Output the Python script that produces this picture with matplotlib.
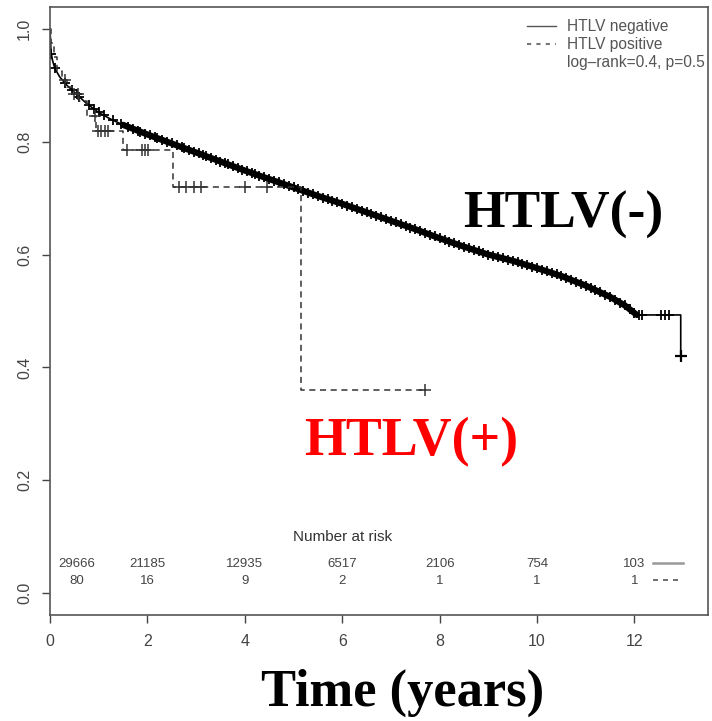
import numpy as np
import matplotlib.pyplot as plt
from matplotlib.lines import Line2D

# Kaplan-Meier curves (HTLV negative is near-continuous)
neg_t = [0, 0.02, 0.05, 0.1, 0.2, 0.35, 0.5, 0.75, 1.0, 1.25, 1.5, 2.0, 2.5, 3.0, 3.5,
         4.0, 4.5, 5.0, 5.5, 6.0, 6.5, 7.0, 7.5, 8.0, 8.5, 9.0, 9.5, 10.0, 10.5, 11.0,
         11.5, 11.8, 12.05, 12.95, 12.95]
neg_s = [1.0, 0.96, 0.945, 0.93, 0.915, 0.9, 0.888, 0.868, 0.852, 0.84, 0.83, 0.813,
         0.797, 0.781, 0.765, 0.749, 0.734, 0.719, 0.704, 0.69, 0.675, 0.66, 0.645,
         0.629, 0.614, 0.60, 0.589, 0.576, 0.562, 0.545, 0.525, 0.51, 0.493, 0.493, 0.42]
neg_cens = [0.03, 0.1, 0.3, 0.45, 0.55, 0.6, 0.8, 0.9, 1.0, 1.1, 1.3, 1.45,
            1.6, 1.7, 1.8, 1.85, 1.95, 2.05, 2.15, 2.2, 2.3, 2.4, 2.5, 2.6, 2.7, 2.75,
            2.85, 2.95, 3.05, 3.15, 3.2, 3.3, 3.4, 3.5, 3.6, 3.65, 3.75, 3.85, 3.95, 4.05,
            4.15, 4.2, 4.3, 4.4, 4.5, 4.6, 4.7, 4.8, 4.9, 5.0, 5.1, 5.2, 5.3, 5.4, 5.5,
            5.6, 5.7, 5.8, 5.9, 6.0, 6.1, 6.2, 6.3, 6.4, 6.5, 6.6, 6.7, 6.8, 6.9, 7.0,
            7.1, 7.2, 7.3, 7.4, 7.5, 7.6, 7.7, 7.8, 7.9, 8.0, 8.1, 8.2, 8.3, 8.4, 8.5,
            8.6, 8.7, 8.8, 8.9, 9.0, 9.1, 9.2, 9.3, 9.4, 9.5, 9.6, 9.7, 9.8, 9.9, 10.0,
            10.1, 10.2, 10.3, 10.4, 10.5, 10.6, 10.7, 10.8, 10.9, 11.0, 11.1, 11.2, 11.3,
            11.4, 11.5, 11.6, 11.7, 11.8, 11.9, 12.0, 12.1, 12.15, 12.55, 12.62, 12.7]
neg_last_cens = 12.95

pos_t = [0, 0.03, 0.08, 0.15, 0.25, 0.35, 0.45, 0.6, 0.75, 0.95, 1.5, 2.52, 5.15, 7.7]
pos_s = [1.0, 0.975, 0.95, 0.925, 0.91, 0.897, 0.885, 0.872, 0.845, 0.82, 0.785, 0.72,
         0.36, 0.36]
pos_cens = [0.3, 0.5, 0.58, 0.92, 0.98, 1.05, 1.12, 1.2, 1.58, 1.88, 1.95, 2.02,
            2.65, 2.8, 2.95, 3.1, 4.0, 4.45, 7.7]

risk_x = [0.55, 2, 4, 6, 8, 10, 12]
risk_neg = ['29666', '21185', '12935', '6517', '2106', '754', '103']
risk_pos = ['80', '16', '9', '2', '1', '1', '1']


def step_at(times, surv, t):
    idx = np.searchsorted(times, t, side='right') - 1
    return np.asarray(surv)[idx]


fig = plt.figure(figsize=(7.12, 7.21), dpi=100)
ax = fig.add_axes([50/712, 106/721, 658/712, 608/721])

nt = np.array(neg_t)
ns = np.array(neg_s)
ax.plot(nt, ns, color='black', lw=1.2)
dense = (nt >= 1.5) & (nt <= 12.05)
ax.plot(nt[dense], ns[dense], color='black', lw=4.5, solid_capstyle='round')
ax.plot(neg_cens, np.interp(neg_cens, nt[:-1], ns[:-1]), ls='none', marker='+',
        color='black', ms=7, mew=1.3)
ax.plot([neg_last_cens], [ns[-1]], ls='none', marker='+', color='black', ms=8, mew=1.6)

ax.step(pos_t, pos_s, where='post', color='#333333', lw=1.1, ls=(0, (4, 3)))
ax.plot(pos_cens, step_at(pos_t, pos_s, pos_cens), ls='none', marker='+',
        color='#333333', ms=8, mew=1.1)

ax.set_xlim(0, 13.51)
ax.set_ylim(-0.039, 1.039)
ax.set_xticks([0, 2, 4, 6, 8, 10, 12])
ax.set_yticks([0, 0.2, 0.4, 0.6, 0.8, 1.0])
ax.set_yticklabels(['0.0', '0.2', '0.4', '0.6', '0.8', '1.0'], rotation=90, va='center')
ax.tick_params(direction='out', length=6, width=1, colors='#444444',
               labelsize=11.5)
ax.tick_params(axis='x', pad=8)
ax.tick_params(axis='y', pad=7)
for lab in ax.get_xticklabels() + ax.get_yticklabels():
    lab.set_fontfamily('Liberation Sans')
for sp in ax.spines.values():
    sp.set_color('#555555')
    sp.set_linewidth(1.2)

handles = [Line2D([], [], color='#555555', lw=1),
           Line2D([], [], color='#777777', lw=1.5, ls=(0, (2, 2.5))),
           Line2D([], [], color='none')]
ax.legend(handles, ['HTLV negative', 'HTLV positive', 'log\u2013rank=0.4, p=0.5'],
          loc='upper right', bbox_to_anchor=(1.0, 0.985), frameon=False,
          handlelength=1.9, handletextpad=0.7, labelspacing=0.2, borderaxespad=0,
          borderpad=0.2, prop={'family': 'Liberation Sans', 'size': 11.2},
          labelcolor='#555555')

# number at risk table
ax.text(6.0, 0.099, 'Number at risk', ha='center', va='center', fontsize=11,
        family='Liberation Sans', color='#333333')
for x, a, b in zip(risk_x, risk_neg, risk_pos):
    ax.text(x, 0.051, a, ha='center', va='center', fontsize=9.5,
            family='Liberation Sans', color='#444444')
    ax.text(x, 0.021, b, ha='center', va='center', fontsize=9.5,
            family='Liberation Sans', color='#444444')
ax.plot([12.38, 13.0], [0.053, 0.053], color='#999999', lw=1.8)
ax.plot([12.38, 13.0], [0.023, 0.023], color='#555555', lw=1.2, ls=(0, (3, 3)))

ax.text(10.53, 0.67, 'HTLV(-)', ha='center', va='center', fontsize=38.5,
        family='Liberation Serif', weight='bold', color='black')
ax.text(7.41, 0.268, 'HTLV(+)', ha='center', va='center', fontsize=38.8,
        family='Liberation Serif', weight='bold', color='red')
fig.text(403/712, 1 - 693/721, 'Time (years)', ha='center', va='center', fontsize=37.8,
         family='Liberation Serif', weight='bold', color='black')

fig.savefig('out.png', dpi=100)
